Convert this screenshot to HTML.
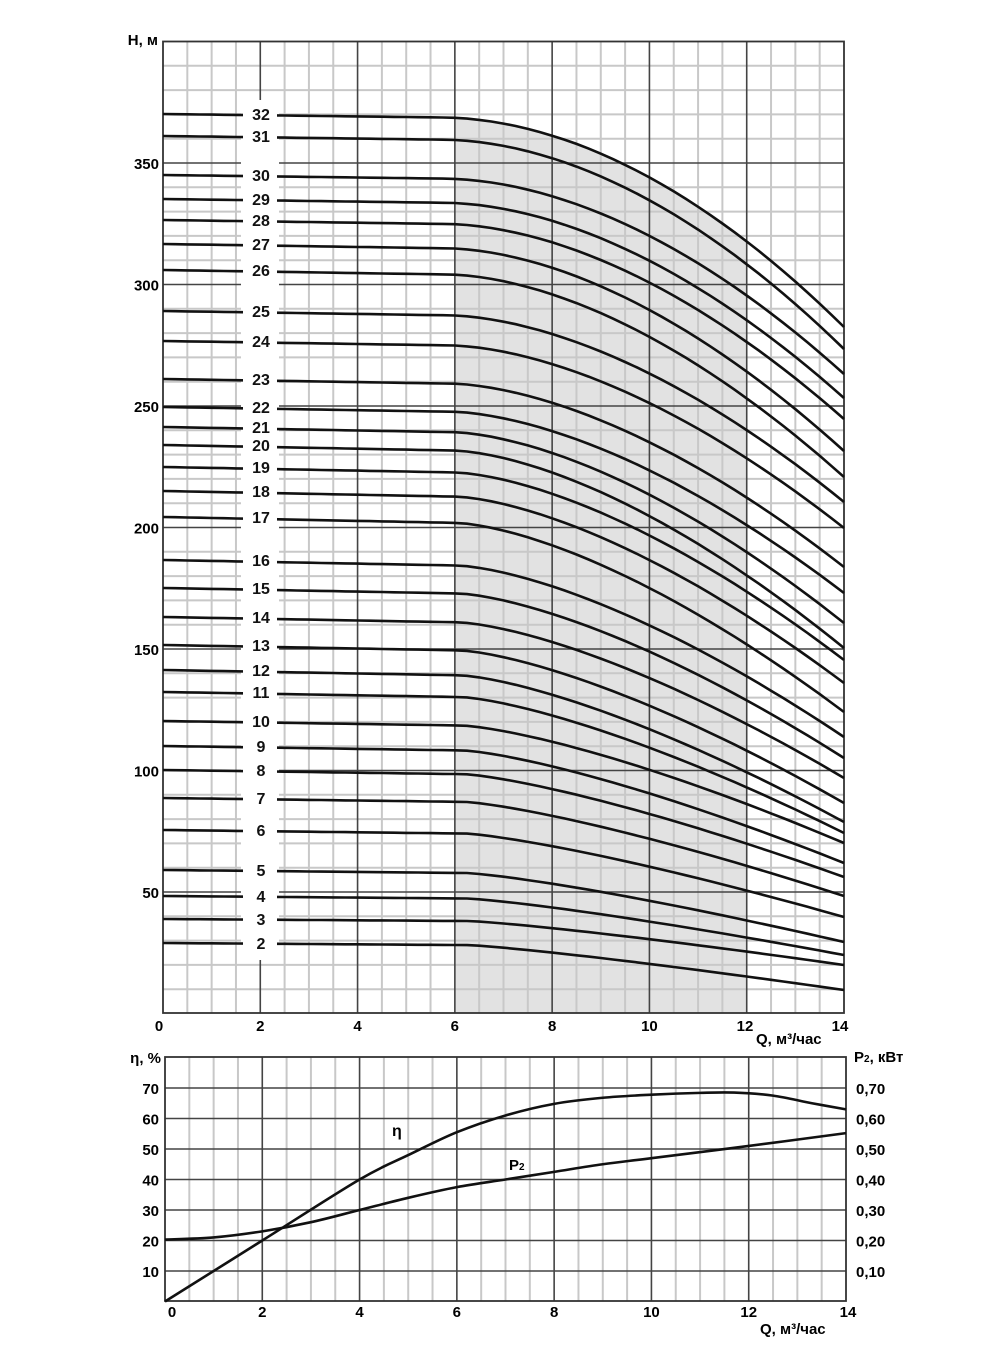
<!DOCTYPE html>
<html><head><meta charset="utf-8"><style>
body{margin:0;background:#fff;}
svg{display:block;font-family:"Liberation Sans",Arial,sans-serif;font-weight:bold;}
</style></head><body>
<svg id="s" width="1000" height="1352" viewBox="0 0 1000 1352" xmlns="http://www.w3.org/2000/svg"></svg>
<script>
var s=document.getElementById('s'),out='';
var X0=163,X1=844,kx=(X1-X0)/14;
function X(q){return X0+q*kx;}
function Y(h){return 1013.5-h*2.43;}
var labY={32:114,31:136,30:175,29:199,28:220,27:244,26:270,25:311,24:341,23:379,22:407,21:427,20:445,19:467,18:491,17:517,16:560,15:588,14:617,13:645,12:670,11:692,10:721,9:746,8:770,7:798,6:830,5:870,4:896,3:919,2:943};
var ends=[327,349,374,398,419,451,477,502,528,567,593,623,648,660,683,712,737,758,778,803,822,833,843,863,877,896,917,942,955,965,990];
function curve(n){
  var y0=labY[n],ye=ends[32-n];
  var t=(n-2)/30;var q0=6.3-t*0.5,a=1.2+t*0.7,lin=0.1-t*0.06;
  var pts=[];
  for(var q=0;q<=14.001;q+=0.25){
    var f=lin*q/14+(1-lin)*(q<=q0?0:Math.pow((q-q0)/(14-q0),a));
    pts.push([X(q),y0+(ye-y0)*f]);
  }
  return pts;
}
function pth(p){return 'M'+p.map(function(v){return v[0].toFixed(1)+','+v[1].toFixed(1)}).join(' L');}
var c32=curve(32);
var sh=c32.filter(function(p){return p[0]>=X(6)-0.1&&p[0]<=X(12)+0.1;});
out+='<path d="'+pth(sh)+' L'+X(12)+',1013 L'+X(6)+',1013 Z" fill="#e2e2e2"/>';
for(var q=0;q<=14;q+=0.5){if(q%2)out+='<line x1="'+X(q)+'" y1="41.5" x2="'+X(q)+'" y2="1013" stroke="#c8c8c8" stroke-width="2"/>';}
for(var h=0;h<=400;h+=10){if(h%50)out+='<line x1="'+X0+'" y1="'+Y(h)+'" x2="'+X1+'" y2="'+Y(h)+'" stroke="#c8c8c8" stroke-width="2"/>';}
for(var q=2;q<14;q+=2){out+='<line x1="'+X(q)+'" y1="41.5" x2="'+X(q)+'" y2="1013" stroke="#444" stroke-width="1.6"/>';}
for(var h=50;h<400;h+=50){out+='<line x1="'+X0+'" y1="'+Y(h)+'" x2="'+X1+'" y2="'+Y(h)+'" stroke="#444" stroke-width="1.6"/>';}
out+='<rect x="'+X0+'" y="41.5" width="'+(X1-X0)+'" height="'+(1013-41.5)+'" fill="none" stroke="#333" stroke-width="1.8"/>';
out+='<rect x="241" y="100" width="38" height="860" fill="#fff"/>';
for(var n=32;n>=2;n--){out+='<path d="'+pth(curve(n))+'" fill="none" stroke="#111" stroke-width="2.6"/>';}
for(var n=32;n>=2;n--){out+='<rect x="243" y="'+(labY[n]-9)+'" width="34" height="18" fill="#fff"/><text x="261" y="'+(labY[n]+6)+'" font-size="16" text-anchor="middle" fill="#111">'+n+'</text>';}
out+='<text x="158" y="45" font-size="15" text-anchor="end">H, м</text>';
[350,300,250,200,150,100,50].forEach(function(h){out+='<text x="159" y="'+(Y(h)+6)+'" font-size="15" text-anchor="end">'+h+'</text>';});
[0,2,4,6,8,10].forEach(function(q){out+='<text x="'+(q==0?159:X(q))+'" y="1031" font-size="15" text-anchor="middle">'+q+'</text>';});
out+='<text x="745" y="1031" font-size="15" text-anchor="middle">12</text><text x="840" y="1031" font-size="15" text-anchor="middle">14</text>';
out+='<text x="756" y="1044" font-size="15">Q, м³/час</text>';
var B0=165,B1=846,bk=(B1-B0)/14;
function BX(q){return B0+q*bk;}
function BY(v){return 1301.5-v*3.05;}
for(var q=0;q<=14;q+=0.5){if(q%2)out+='<line x1="'+BX(q)+'" y1="1057" x2="'+BX(q)+'" y2="1301" stroke="#c8c8c8" stroke-width="2"/>';}
for(var q=2;q<14;q+=2){out+='<line x1="'+BX(q)+'" y1="1057" x2="'+BX(q)+'" y2="1301" stroke="#444" stroke-width="1.6"/>';}
for(var v=10;v<80;v+=10){out+='<line x1="'+B0+'" y1="'+BY(v)+'" x2="'+B1+'" y2="'+BY(v)+'" stroke="#444" stroke-width="1.6"/>';}
out+='<rect x="'+B0+'" y="1057" width="'+(B1-B0)+'" height="244" fill="none" stroke="#333" stroke-width="1.8"/>';
function smooth(d){var p=d.map(function(a){return [BX(a[0]),BY(a[1])];});var r='M'+p[0][0]+','+p[0][1];
 for(var i=0;i<p.length-1;i++){var p0=p[i-1]||p[i],p1=p[i],p2=p[i+1],p3=p[i+2]||p2;
 r+=' C'+(p1[0]+(p2[0]-p0[0])/6)+','+(p1[1]+(p2[1]-p0[1])/6)+' '+(p2[0]-(p3[0]-p1[0])/6)+','+(p2[1]-(p3[1]-p1[1])/6)+' '+p2[0]+','+p2[1];}return r;}
var eta=[[0,0],[2,20],[4,40],[5,48],[6,55.5],[7,61],[8,64.8],[9,66.8],[10,67.8],[11,68.4],[11.7,68.5],[12.5,67.5],[13.3,65],[14,63]];
var p2=[[0,20.3],[1,21],[2,23],[3,26],[4,30],[5,34],[6,37.5],[7,40],[8,42.5],[9,45],[10,47],[12,51],[14,55.2]];
out+='<path d="'+smooth(eta)+'" fill="none" stroke="#111" stroke-width="2.6"/>';
out+='<path d="'+smooth(p2)+'" fill="none" stroke="#111" stroke-width="2.6"/>';
out+='<text x="392" y="1136" font-size="16">η</text><text x="509" y="1170" font-size="15">P<tspan font-size="10">2</tspan></text>';
out+='<text x="161" y="1063" font-size="15" text-anchor="end">η, %</text>';
for(var v=10;v<=70;v+=10){out+='<text x="159" y="'+(BY(v)+6)+'" font-size="15" text-anchor="end">'+v+'</text>';
 out+='<text x="856" y="'+(BY(v)+6)+'" font-size="15">0,'+v+'</text>';}
out+='<text x="854" y="1062" font-size="15">P<tspan font-size="10">2</tspan>, кВт</text>';
[0,2,4,6,8,10,12].forEach(function(q){out+='<text x="'+(q==0?172:BX(q))+'" y="1317" font-size="15" text-anchor="middle">'+q+'</text>';});
out+='<text x="848" y="1317" font-size="15" text-anchor="middle">14</text>';
out+='<text x="760" y="1334" font-size="15">Q, м³/час</text>';
s.innerHTML=out;
</script>
</body></html>
